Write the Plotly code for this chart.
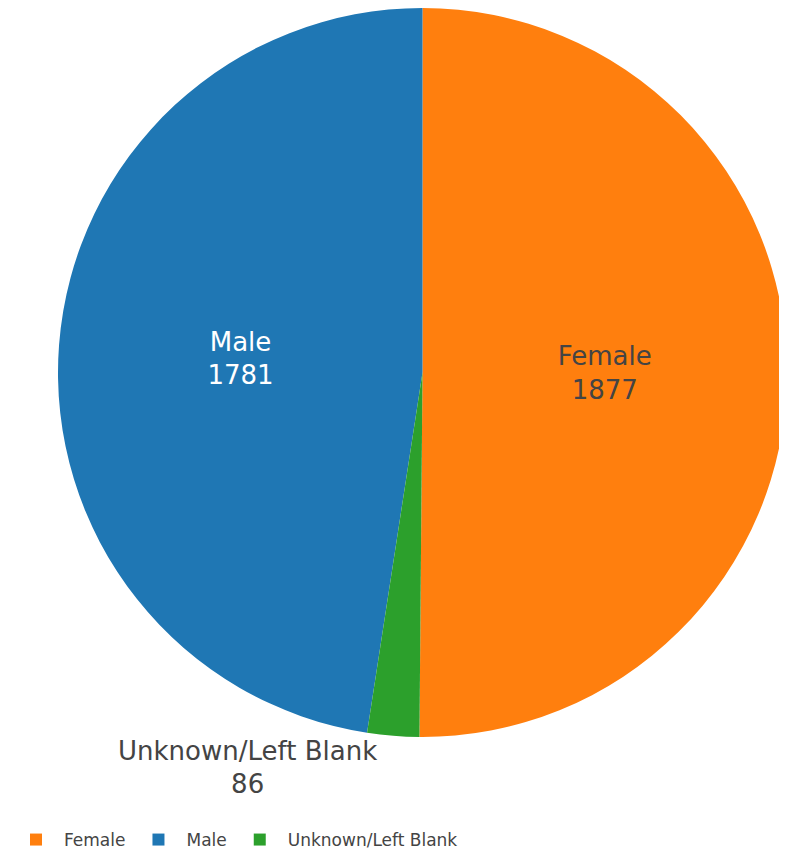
import plotly.graph_objects as go

labels = ["Female", "Male", "Unknown/Left Blank"]
values = [1877, 1781, 86]
colors = ["#ff7f0e", "#1f77b4", "#2ca02c"]

fig = go.Figure(
    go.Pie(
        labels=labels,
        values=values,
        marker=dict(colors=colors),
        textinfo="label+value",
        textfont=dict(size=26, family="DejaVu Sans"),
        sort=True,
        direction="counterclockwise",
    )
)

# page body has an 8px margin; compensate
W, H = 779, 849
ml, mr, mt, mb = 50, 0, 0, 120
pw = W - ml - mr
ph = H - mt - mb

fig.update_layout(
    width=W,
    height=H,
    margin=dict(l=ml, r=mr, t=mt, b=mb, pad=0, autoexpand=False),
    paper_bgcolor="white",
    font=dict(family="DejaVu Sans", color="#444"),
    showlegend=True,
    legend=dict(
        orientation="h",
        x=-ml / pw,
        xanchor="left",
        y=(ph - 832) / ph,
        yanchor="middle",
        font=dict(size=17, family="DejaVu Sans", color="#444"),
        itemwidth=46,
    ),
)

fig.write_html("out.html")
